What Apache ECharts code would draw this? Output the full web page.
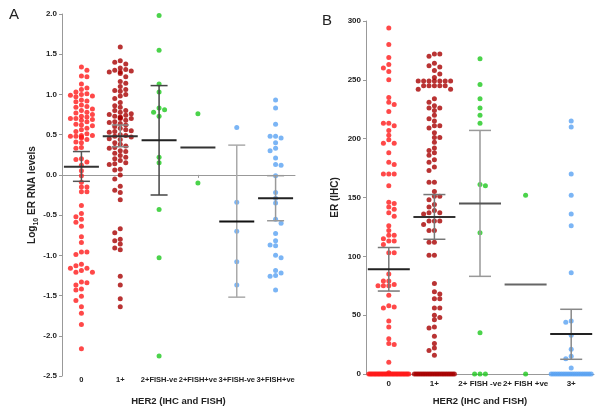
<!DOCTYPE html>
<html><head><meta charset="utf-8">
<script src="https://cdn.jsdelivr.net/npm/echarts/dist/echarts.min.js"></script>
<style>html,body{margin:0;padding:0;background:#fff}#main{width:600px;height:413px}</style>
</head><body><div id="main"></div>
<script>
// ---------- Panel A: log10 ER RNA levels ----------
const categoriesA = ['0', '1+', '2+FISH-ve', '2+FISH+ve', '3+FISH-ve', '3+FISH+ve'];
const a_ihc0 = [1.34,1.30,1.23,1.22,1.13,1.08,1.06,1.03,1.01,1.00,0.99,0.98,0.97,0.93,0.92,0.91,0.87,0.85,0.84,0.82,0.80,0.78,0.77,0.75,0.73,0.72,0.70,0.70,0.69,0.68,0.66,0.63,0.62,0.61,0.58,0.56,0.54,0.51,0.49,0.49,0.48,0.48,0.47,0.46,0.44,0.41,0.40,0.34,0.33,0.20,0.19,0.16,0.12,0.05,-0.01,-0.09,-0.15,-0.15,-0.21,-0.21,-0.38,-0.48,-0.52,-0.55,-0.59,-0.64,-0.77,-0.84,-0.96,-0.96,-0.99,-1.11,-1.13,-1.16,-1.16,-1.19,-1.21,-1.21,-1.33,-1.34,-1.37,-1.42,-1.43,-1.51,-1.56,-1.64,-1.72,-1.86,-2.16];
const a_ihc1 = [1.59,1.42,1.40,1.38,1.33,1.31,1.30,1.29,1.28,1.28,1.26,1.22,1.16,1.14,1.10,1.06,1.05,1.04,1.00,0.98,0.95,0.90,0.86,0.84,0.80,0.80,0.78,0.76,0.75,0.74,0.73,0.72,0.71,0.70,0.70,0.68,0.66,0.65,0.64,0.62,0.60,0.58,0.56,0.55,0.54,0.53,0.50,0.49,0.48,0.47,0.45,0.44,0.40,0.38,0.36,0.34,0.33,0.30,0.29,0.27,0.24,0.22,0.20,0.18,0.15,0.14,0.13,0.07,0.06,0.00,-0.05,-0.14,-0.19,-0.22,-0.31,-0.67,-0.72,-0.80,-0.82,-0.86,-0.91,-0.93,-1.26,-1.37,-1.54,-1.64];
const a_2neg = [1.98,1.55,1.13,1.03,0.83,0.81,0.78,0.73,0.22,0.15,-0.43,-1.03,-2.25];
const a_2pos = [0.76,-0.10];
const a_3neg = [0.59,-0.34,-0.70,-1.08,-1.37];
const a_3pos = [0.93,0.83,0.63,0.48,0.48,0.46,0.40,0.33,0.30,0.21,0.13,0.12,-0.01,-0.22,-0.29,-0.35,-0.55,-0.60,-0.73,-0.82,-0.87,-0.88,-1.00,-1.03,-1.19,-1.22,-1.25,-1.26,-1.43];
const meanA = [0.10, 0.48, 0.43, 0.34, -0.58, -0.29];
const ciLowA = [-0.08, 0.35, -0.25, null, -1.52, -0.57];
const ciHighA = [0.29, 0.62, 1.11, null, 0.37, -0.01];
const yTicksA = [-2.5, 2.0, 0.5]; // min, max, step

// ---------- Panel B: ER (IHC) ----------
const categoriesB = ['0', '1+', '2+ FISH -ve', '2+ FISH +ve', '3+'];
const zerosB0 = 30, zerosB1 = 24, zerosB4 = 20;
const b_ihc0 = [294,280,269,263,260,257,250,235,231,229,223,213,213,211,207,203,199,196,196,188,180,178,170,170,170,160,146,145,142,140,137,134,126,122,118,118,115,113,113,110,103,103,85,79,79,76,75,75,75,67,58,57,56,45,40,30,26,25,10,1];
const b_ihc1 = [272,272,270,264,262,261,258,255,252,249,249,249,249,249,249,249,245,245,245,245,245,242,242,234,231,228,226,226,224,220,217,215,211,211,209,205,201,201,197,192,190,188,186,182,180,176,173,163,163,155,151,151,148,144,142,139,137,137,136,130,130,130,127,122,122,112,112,101,101,77,70,68,64,64,56,56,50,48,46,40,39,32,26,22,20,16];
const b_2neg = [268,246,234,226,220,213,161,160,120,35,0,0,0];
const b_2pos = [152,0];
const b_3 = [215,210,170,152,136,126,86,45,44,33,21,15,13,5];
const meanB = [89, 133.5, 145, 76, 34];
const ciLowB = [70.5, 114.5, 83, null, 12.5];
const ciHighB = [107.5, 152.5, 207, null, 55];
const yTicksB = [0, 300, 50];

const colorsA = ['#ff1a1a', '#a80000', '#1ec81e', '#1ec81e', '#5aa3f2', '#5aa3f2'];
const colorsB = ['#ff1a1a', '#a80000', '#1ec81e', '#1ec81e', '#5aa3f2'];
const meanColA = ['#333', '#333', '#222', '#333', '#111', '#222'];
const errColA = ['#555', '#888', '#444', '#444', '#aaa', '#999'];
const meanColB = ['#222', '#333', '#555', '#666', '#222'];
const errColB = ['#777', '#777', '#999', '#999', '#888'];

function withZeros(arr, n) { return arr.concat(new Array(n).fill(0)); }
const groupsA = [a_ihc0, a_ihc1, a_2neg, a_2pos, a_3neg, a_3pos];
const groupsB = [withZeros(b_ihc0, zerosB0), withZeros(b_ihc1, zerosB1), b_2neg, b_2pos, withZeros(b_3, zerosB4)];

const gridA = {left: 62, top: 14, width: 233, height: 362};
const gridB = {left: 366, top: 21, width: 228, height: 353};
const pxA = gridA.height / (yTicksA[1] - yTicksA[0]);
const pxB = gridB.height / (yTicksB[1] - yTicksB[0]);

// Beeswarm placement (pixel offsets computed from the values)
function swarm(values, pxPerUnit, o) {
  const counts = {};
  values.forEach(v => counts[v] = (counts[v] || 0) + 1);
  const placed = [], out = [], tieIdx = {};
  const sorted = values.slice().sort((a, b) => b - a);
  sorted.forEach(v => {
    const n = counts[v];
    if (n > 2 * o.maxSlot + 1) {
      const i = tieIdx[v] || 0; tieIdx[v] = i + 1;
      out.push({v, dx: -o.tieHalf + 2 * o.tieHalf * i / (n - 1)});
      return;
    }
    const y = v * pxPerUnit;
    let chosen = null;
    for (let k = 0; k <= o.maxSlot && chosen === null; k++) {
      const cands = k === 0 ? [0] : (placed.length % 2 ? [k, -k] : [-k, k]);
      for (const s of cands) {
        if (!placed.some(p => p.slot === s && Math.abs(p.y - y) < o.diam)) { chosen = s; break; }
      }
    }
    if (chosen === null) chosen = 0;
    placed.push({slot: chosen, y});
    out.push({v, dx: chosen * o.spacing});
  });
  return out;
}

function summaryRender(halfMean, halfCap, meanCol, errCol, lo, hi) {
  return function (params, api) {
    const i = params.dataIndex;
    const c = api.value(0), m = api.value(1);
    const pm = api.coord([c, m]);
    const ch = [];
    if (lo[i] != null) {
      const pl = api.coord([c, lo[i]]), ph = api.coord([c, hi[i]]);
      const st = {stroke: errCol[i], lineWidth: 1.5};
      ch.push({type: 'line', shape: {x1: pl[0], y1: pl[1], x2: ph[0], y2: ph[1]}, style: st});
      ch.push({type: 'line', shape: {x1: pl[0] - halfCap, y1: pl[1], x2: pl[0] + halfCap, y2: pl[1]}, style: st});
      ch.push({type: 'line', shape: {x1: ph[0] - halfCap, y1: ph[1], x2: ph[0] + halfCap, y2: ph[1]}, style: st});
    }
    ch.push({type: 'line', shape: {x1: pm[0] - halfMean, y1: pm[1], x2: pm[0] + halfMean, y2: pm[1]}, style: {stroke: meanCol[i], lineWidth: 2}});
    return {type: 'group', children: ch};
  };
}

const series = [];
groupsA.forEach((g, ci) => {
  const pts = swarm(g, pxA, {spacing: 5.5, diam: 4.3, maxSlot: 2, tieHalf: 14});
  series.push({
    type: 'scatter', xAxisIndex: 0, yAxisIndex: 0, symbolSize: 5, z: 2,
    itemStyle: {color: colorsA[ci]},
    data: pts.map(p => ({value: [ci, p.v], symbolOffset: [p.dx, 0]}))
  });
});
groupsB.forEach((g, ci) => {
  const pts = swarm(g, pxB, {spacing: 5.4, diam: 4.5, maxSlot: 3, tieHalf: 20});
  series.push({
    type: 'scatter', xAxisIndex: 2, yAxisIndex: 1, symbolSize: 5, z: 2,
    itemStyle: {color: colorsB[ci]},
    data: pts.map(p => ({value: [ci, p.v], symbolOffset: [p.dx, 0]}))
  });
});
series.push({
  type: 'custom', xAxisIndex: 0, yAxisIndex: 0, z: 5,
  renderItem: summaryRender(17.5, 8.5, meanColA, errColA, ciLowA, ciHighA),
  data: meanA.map((m, i) => [i, m])
});
series.push({
  type: 'custom', xAxisIndex: 2, yAxisIndex: 1, z: 5,
  renderItem: summaryRender(21, 11, meanColB, errColB, ciLowB, ciHighB),
  data: meanB.map((m, i) => [i, m])
});

const FONT = 'Liberation Sans, Arial, sans-serif';
const tickLabel = {fontSize: 8, fontWeight: 'bold', color: '#222', fontFamily: FONT, margin: 5};
const axisLineGray = {show: true, lineStyle: {color: '#999', width: 1}};

const option = {
  animation: false,
  backgroundColor: '#fff',
  textStyle: {fontFamily: FONT},
  grid: [
    Object.assign({containLabel: false}, gridA),
    Object.assign({containLabel: false}, gridB)
  ],
  xAxis: [
    {
      gridIndex: 0, type: 'category', data: categoriesA, position: 'bottom',
      axisLine: {show: false, onZero: false}, axisTick: {show: false}, splitLine: {show: false},
      axisLabel: {interval: 0, fontSize: 7.5, fontWeight: 'bold', color: '#222', fontFamily: FONT, margin: 0},
      name: 'HER2 (IHC and FISH)', nameLocation: 'middle', nameGap: 20,
      nameTextStyle: {fontSize: 9.5, fontWeight: 'bold', color: '#222', fontFamily: FONT}
    },
    {
      gridIndex: 0, type: 'category', data: categoriesA, position: 'bottom',
      axisLine: {show: true, onZero: true, lineStyle: {color: '#999', width: 1}},
      axisTick: {show: true, alignWithLabel: true, length: 3, lineStyle: {color: '#999'}},
      axisLabel: {show: false}, splitLine: {show: false}
    },
    {
      gridIndex: 1, type: 'category', data: categoriesB, position: 'bottom',
      axisLine: axisLineGray, axisTick: {show: false}, splitLine: {show: false},
      axisLabel: {interval: 0, fontSize: 8, fontWeight: 'bold', color: '#222', fontFamily: FONT, margin: 6},
      name: 'HER2 (IHC and FISH)', nameLocation: 'middle', nameGap: 22,
      nameTextStyle: {fontSize: 9.5, fontWeight: 'bold', color: '#222', fontFamily: FONT}
    }
  ],
  yAxis: [
    {
      gridIndex: 0, type: 'value', min: yTicksA[0], max: yTicksA[1], interval: yTicksA[2],
      axisLine: axisLineGray, axisTick: {show: true, length: 3, lineStyle: {color: '#999'}},
      splitLine: {show: false},
      axisLabel: Object.assign({formatter: v => v.toFixed(1)}, tickLabel),
      name: '{a|Log}{s|10}{a| ER RNA levels}', nameLocation: 'middle', nameGap: 22, nameRotate: 90,
      nameTextStyle: {
        rich: {
          a: {fontSize: 10, fontWeight: 'bold', color: '#222', fontFamily: FONT, lineHeight: 14},
          s: {fontSize: 7, fontWeight: 'bold', color: '#222', fontFamily: FONT, verticalAlign: 'bottom', lineHeight: 9, padding: [4, 0, 0, 0]}
        }
      }
    },
    {
      gridIndex: 1, type: 'value', min: yTicksB[0], max: yTicksB[1], interval: yTicksB[2],
      axisLine: axisLineGray, axisTick: {show: true, length: 3, lineStyle: {color: '#999'}},
      splitLine: {show: false},
      axisLabel: tickLabel,
      name: 'ER (IHC)', nameLocation: 'middle', nameGap: 26, nameRotate: 90,
      nameTextStyle: {fontSize: 10, fontWeight: 'bold', color: '#222', fontFamily: FONT}
    }
  ],
  graphic: [
    {type: 'text', left: 9, top: 7, style: {text: 'A', fontSize: 15, fontFamily: FONT, fill: '#222'}},
    {type: 'text', left: 322, top: 13, style: {text: 'B', fontSize: 15, fontFamily: FONT, fill: '#222'}}
  ],
  series: series
};

const chart = echarts.init(document.getElementById('main'), null, {renderer: 'canvas'});
chart.setOption(option);
</script>
</body></html>
